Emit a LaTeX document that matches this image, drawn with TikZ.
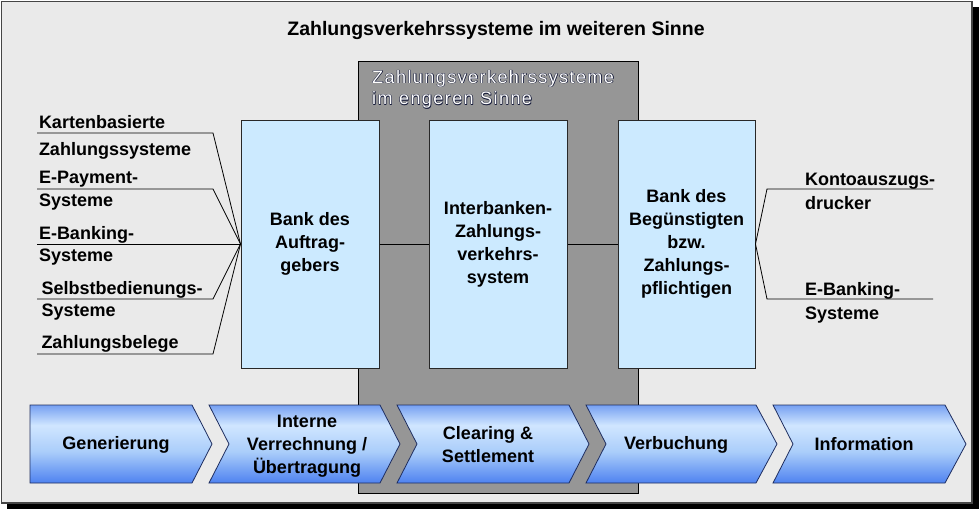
\documentclass[tikz,border=0pt]{standalone}
\usepackage{fontspec}
\setmainfont{Liberation Sans}
\newfontfamily\spacedfont[LetterSpace=8]{Liberation Sans}
\definecolor{framebg}{RGB}{234,234,234}
\definecolor{frameline}{RGB}{70,70,70}
\definecolor{grayfill}{RGB}{150,150,150}
\definecolor{boxfill}{RGB}{204,234,255}
\definecolor{boxline}{RGB}{40,40,40}
\definecolor{chevline}{RGB}{30,45,95}
\definecolor{chbot}{RGB}{78,130,240}
\definecolor{chmid}{RGB}{170,205,250}
\definecolor{chlight}{RGB}{208,230,255}
\definecolor{chtop}{RGB}{118,160,242}
\definecolor{gshadow}{RGB}{25,30,60}
\pgfdeclareverticalshading{chevshade}{100bp}{color(0bp)=(chbot); color(25bp)=(chbot); color(45bp)=(chmid); color(62bp)=(chlight); color(75bp)=(chtop); color(100bp)=(chtop)}
\begin{document}
\begin{tikzpicture}[x=1pt,y=-1pt,
  lbl/.style={font=\bfseries\fontsize{18}{23}\selectfont, inner sep=0pt, outer sep=0pt},
  titletext/.style={font=\bfseries\fontsize{19.5}{23}\selectfont, inner sep=0pt},
  glabel/.style={font=\spacedfont\fontsize{18}{23}\selectfont, inner sep=0pt, anchor=base west},
  bluebox/.style={draw=boxline, fill=boxfill, line width=1pt, minimum height=248pt, inner sep=0pt, align=center, font=\bfseries\fontsize{18}{23}\selectfont},
  graybox/.style={draw=black, fill=grayfill, line width=1pt, inner sep=0pt, anchor=north west},
  chev/.style={shading=chevshade, draw=chevline, line width=0.8pt},
  chevtext/.style={font=\bfseries\fontsize{18}{23}\selectfont, align=center, inner sep=0pt},
  wire/.style={draw=black, line width=0.8pt}]
\useasboundingbox (0,0) rectangle (979,509);
% frame with shadow
\fill[black] (7,7) rectangle (979,509);
\draw[fill=framebg, draw=frameline, line width=1.5pt] (1.5,1.5) rectangle (972,503);
% title
\node[titletext, anchor=base] (title) at (496,35) {Zahlungsverkehrssysteme im weiteren Sinne};
% gray box
\node[graybox, minimum width=280pt, minimum height=432pt] (gbox) at (358,61) {};
\foreach \dx/\dy [count=\i] in {0.6/0, -0.5/0, 0/0.6, 0.6/0.6} {
  \node[glabel, text=gshadow] (gsa\i) at (372+\dx,83+\dy) {Zahlungsverkehrssysteme};
  \node[glabel, text=gshadow] (gsb\i) at (372+\dx,104.5+\dy) {im engeren Sinne};
}
\node[glabel, text=white] (ga) at (372,83) {Zahlungsverkehrssysteme};
\node[glabel, text=white] (gb) at (372,104.5) {im engeren Sinne};
% blue boxes
\node[bluebox, minimum width=138pt] (lb) at (310,244) {Bank des\\Auftrag-\\gebers};
\node[bluebox, minimum width=138pt] (mb) at (498,244) {Interbanken-\\Zahlungs-\\verkehrs-\\system};
\node[bluebox, minimum width=137pt] (rb) at (686.5,244) {Bank des\\Begünstigten\\bzw.\\Zahlungs-\\pflichtigen};
\draw[wire] (lb.east) -- (mb.west);
\draw[wire] (mb.east) -- (rb.west);
% left labels
\coordinate (u1a) at (37,133); \coordinate (u1b) at (213,133);
\coordinate (u2a) at (37,189); \coordinate (u2b) at (213,189);
\coordinate (u3a) at (37,244);
\coordinate (u4a) at (37,299); \coordinate (u4b) at (213,299);
\coordinate (u5a) at (37,354); \coordinate (u5b) at (213,354);
\draw[wire] (u1a) -- (u1b) -- (lb.west);
\draw[wire] (u2a) -- (u2b) -- (lb.west);
\draw[wire] (u3a) -- (lb.west);
\draw[wire] (u4a) -- (u4b) -- (lb.west);
\draw[wire] (u5a) -- (u5b) -- (lb.west);
\node[lbl, anchor=base west] (l1a) at (39,128) {Kartenbasierte};
\node[lbl, anchor=base west] (l1b) at (39,155.5) {Zahlungssysteme};
\node[lbl, anchor=base west] (l2a) at (39,183) {E-Payment-};
\node[lbl, anchor=base west] (l2b) at (39,206) {Systeme};
\node[lbl, anchor=base west] (l3a) at (39,239) {E-Banking-};
\node[lbl, anchor=base west] (l3b) at (39,261) {Systeme};
\node[lbl, anchor=base west] (l4a) at (41.5,294.5) {Selbstbedienungs-};
\node[lbl, anchor=base west] (l4b) at (41.5,316.5) {Systeme};
\node[lbl, anchor=base west] (l5a) at (41.5,348) {Zahlungsbelege};
% right labels
\coordinate (r1a) at (767,189); \coordinate (r1b) at (933,189);
\coordinate (r2a) at (767,299); \coordinate (r2b) at (933,299);
\draw[wire] (r1b) -- (r1a) -- (rb.east) -- (r2a) -- (r2b);
\node[lbl, anchor=base west] (k1a) at (805,185.5) {Kontoauszugs-};
\node[lbl, anchor=base west] (k1b) at (805,209.5) {drucker};
\node[lbl, anchor=base west] (k2a) at (805,295.5) {E-Banking-};
\node[lbl, anchor=base west] (k2b) at (805,319) {Systeme};
% chevrons
\path[chev] (30,405) -- (192,405) -- (212,444) -- (192,483) -- (30,483) -- cycle;
\path[chev] (209,405) -- (380,405) -- (400,444) -- (380,483) -- (209,483) -- (229,444) -- cycle;
\path[chev] (397,405) -- (569,405) -- (589,444) -- (569,483) -- (397,483) -- (417,444) -- cycle;
\path[chev] (586,405) -- (756,405) -- (777,444) -- (756,483) -- (586,483) -- (606,444) -- cycle;
\path[chev] (773,405) -- (945,405) -- (966,444) -- (945,483) -- (773,483) -- (793,444) -- cycle;
\node[chevtext] (t1) at (116,444.5) {Generierung};
\node[chevtext] (t2) at (307,446) {Interne\\Verrechnung /\\Übertragung};
\node[chevtext] (t3) at (488,445) {Clearing \&\\Settlement};
\node[chevtext] (t4) at (676,444.5) {Verbuchung};
\node[chevtext] (t5) at (864,444.5) {Information};
\end{tikzpicture}
\end{document}
